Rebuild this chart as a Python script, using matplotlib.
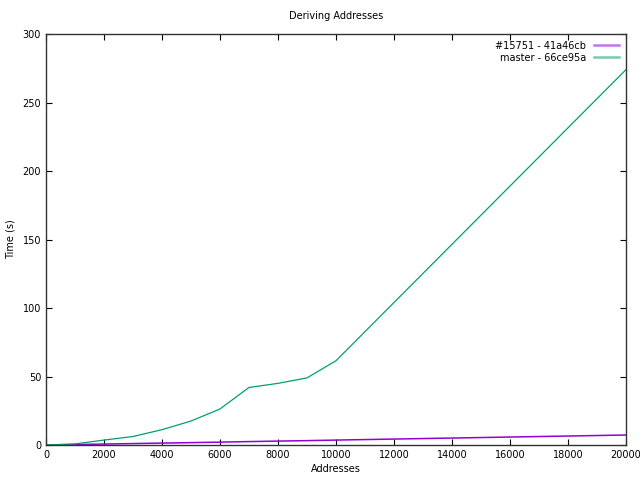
import matplotlib.pyplot as plt

# addresses derived (x) and time in seconds (y)
pr_addresses = [0, 1000, 2000, 3000, 4000, 5000, 6000, 7000, 8000, 9000, 10000,
                20000]
pr_times = [0.0, 0.35, 0.7, 1.05, 1.4, 1.75, 2.1, 2.5, 2.85, 3.2, 3.6, 7.3]

master_addresses = [0, 1000, 2000, 3000, 4000, 5000, 6000, 7000, 8000, 9000,
                    10000, 20000]
master_times = [0.0, 0.8, 3.6, 6.2, 11.2, 17.5, 26.3, 42.0, 45.0, 49.0, 61.5,
                274.0]

plt.rcParams['font.family'] = ['DejaVu Sans']
plt.rcParams['font.size'] = 7

fig = plt.figure(figsize=(6.4, 4.8), dpi=100)
ax = fig.add_axes([0.0719, 0.0729, 0.978 - 0.0719, 0.929 - 0.0729])

ax.plot(pr_addresses, pr_times, color='#9400d3', lw=1.1,
        label='#15751 - 41a46cb')
ax.plot(master_addresses, master_times, color='#009e73', lw=0.9,
        label='master - 66ce95a')

ax.set_xlim(0, 20000)
ax.set_ylim(0, 300)
ax.set_xticks(range(0, 20001, 2000))
ax.set_yticks(range(0, 301, 50))
ax.tick_params(direction='in', top=True, right=True, length=4, width=0.8,
               labelsize=7)
for s in ax.spines.values():
    s.set_linewidth(1.0)
    s.set_color('#333333')

ax.set_title('Deriving Addresses', fontsize=7, pad=11)
ax.set_xlabel('Addresses', fontsize=7, labelpad=3)
ax.set_ylabel('Time (s)', fontsize=7, labelpad=5)

leg = ax.legend(loc='upper right', frameon=False, markerfirst=False,
                handlelength=2.6, fontsize=7, borderaxespad=0.3,
                labelspacing=0.2)
for line in leg.get_lines():
    line.set_linewidth(1.8)
    line.set_alpha(0.55)

fig.savefig('out.png', dpi=100)
